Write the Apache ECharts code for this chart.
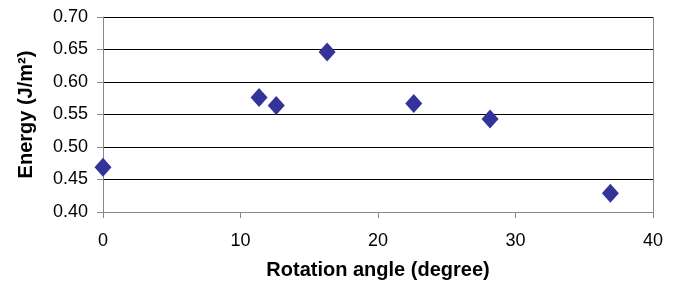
<!DOCTYPE html>
<html style="height: 100%">
<head>
    <meta charset="utf-8">
    <title>Energy vs rotation angle</title>
    <script src="https://cdn.jsdelivr.net/npm/echarts@6/dist/echarts.min.js"></script>
</head>
<body style="height: 100%; margin: 0; background: #fff">
    <div id="chart" style="width: 677px; height: 285px;"></div>
    <script type="text/javascript">
    // rotation angle (degree) and energy (J/m2)
    var angles = [0, 11.35, 12.6, 16.3, 22.6, 28.15, 36.9];
    var energies = [0.469, 0.576, 0.564, 0.646, 0.567, 0.543, 0.429];

    var points = [];
    for (var i = 0; i < angles.length; i++) {
        points.push([angles[i], energies[i]]);
    }

    var font = 'Liberation Sans, Arial, sans-serif';
    var myChart = echarts.init(document.getElementById('chart'));

    var option = {
        backgroundColor: '#fff',
        animation: false,
        grid: { left: 103, right: 24, top: 17, bottom: 73 },
        xAxis: {
            type: 'value',
            min: 0, max: 40, interval: 10,
            name: 'Rotation angle (degree)',
            nameLocation: 'middle',
            nameGap: 48,
            nameTextStyle: { fontFamily: font, fontSize: 20, fontWeight: 'bold', color: '#000' },
            axisLine: { show: true, lineStyle: { color: '#888', width: 1 } },
            axisTick: { show: true, length: 6, lineStyle: { color: '#888' } },
            axisLabel: { fontFamily: font, fontSize: 18, color: '#000', margin: 20 },
            splitLine: { show: false }
        },
        yAxis: {
            type: 'value',
            min: 0.40, max: 0.70, interval: 0.05,
            name: 'Energy (J/m²)',
            nameLocation: 'middle',
            nameGap: 67,
            nameTextStyle: { fontFamily: font, fontSize: 20, fontWeight: 'bold', color: '#000' },
            axisLine: { show: true, lineStyle: { color: '#888', width: 1 } },
            axisTick: { show: true, length: 6, lineStyle: { color: '#888' } },
            axisLabel: {
                fontFamily: font, fontSize: 18, color: '#000', margin: 15,
                formatter: function (v) { return v.toFixed(2); }
            },
            splitLine: { show: true, lineStyle: { color: '#000', width: 1 } }
        },
        series: [
            {
                type: 'scatter',
                symbol: 'diamond',
                symbolSize: [17, 19],
                itemStyle: { color: '#333399', opacity: 1 },
                data: points
            },
            {
                // right border of the plot area
                type: 'line',
                data: [],
                markLine: {
                    silent: true,
                    symbol: 'none',
                    label: { show: false },
                    lineStyle: { color: '#888', type: 'solid', width: 1 },
                    data: [{ xAxis: 40 }]
                }
            }
        ]
    };

    myChart.setOption(option);
    </script>
</body>
</html>
